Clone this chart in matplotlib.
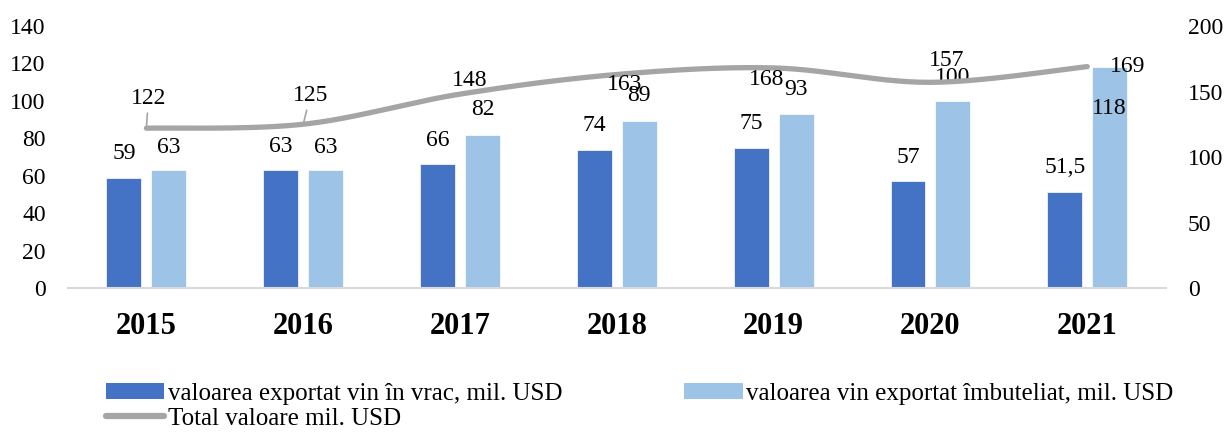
import matplotlib
matplotlib.use("Agg")
import matplotlib.pyplot as plt
import numpy as np
from matplotlib.lines import Line2D
from matplotlib.patches import Patch

years = ["2015", "2016", "2017", "2018", "2019", "2020", "2021"]
vrac = [59, 63, 66, 74, 75, 57, 51.5]
imbuteliat = [63, 63, 82, 89, 93, 100, 118]
total = [122, 125, 148, 163, 168, 157, 169]

vrac_labels = ["59", "63", "66", "74", "75", "57", "51,5"]
imb_labels = ["63", "63", "82", "89", "93", "100", "118"]
total_labels = ["122", "125", "148", "163", "168", "157", "169"]

C_DARK = "#4472C4"
C_LIGHT = "#9DC3E6"
C_GRAY = "#A5A5A5"

plt.rcParams['font.family'] = ['Liberation Serif', 'DejaVu Serif']

fig = plt.figure(figsize=(12.27, 4.32), dpi=100)
ax = fig.add_axes([0.0554, 0.3333, 0.8946, 0.6065])
ax2 = ax.twinx()

x = np.arange(len(years))
w = 0.223
off = 0.143
ax.bar(x - off, vrac, w, color=C_DARK, edgecolor="white", linewidth=0.5, zorder=2)
ax.bar(x + off, imbuteliat, w, color=C_LIGHT, edgecolor="white", linewidth=0.5, zorder=2)

ax.set_xlim(-0.5, len(years) - 0.5)
ax.set_ylim(0, 140)
ax.set_yticks(np.arange(0, 141, 20))
ax2.set_ylim(0, 200)
ax2.set_yticks(np.arange(0, 201, 50))

for a in (ax, ax2):
    for s in ("top", "left", "right"):
        a.spines[s].set_visible(False)
    a.tick_params(length=0, labelsize=17)
ax.spines["bottom"].set_color("#D9D9D9")
ax.spines["bottom"].set_linewidth(1.5)
ax2.spines["bottom"].set_visible(False)
ax.tick_params(axis="y", pad=16)
ax2.tick_params(axis="y", pad=16)
ax.set_xticks(x)
ax.set_xticklabels(years, fontsize=22, fontweight="bold")
ax.tick_params(axis="x", pad=17)

# smoothed line (Excel-like smoothing)
xs, ys = [], []
P = np.column_stack([x.astype(float), np.array(total, dtype=float)])
n = len(P)
for i in range(n - 1):
    p0 = P[max(i - 1, 0)]
    p1 = P[i]
    p2 = P[i + 1]
    p3 = P[min(i + 2, n - 1)]
    c1 = p1 + (p2 - p0) / 6.0
    c2 = p2 - (p3 - p1) / 6.0
    t = np.linspace(0, 1, 30)[:, None]
    seg = (1 - t) ** 3 * p1 + 3 * (1 - t) ** 2 * t * c1 + 3 * (1 - t) * t ** 2 * c2 + t ** 3 * p2
    xs.extend(seg[:, 0]); ys.extend(seg[:, 1])
ax2.plot(xs, ys, color=C_GRAY, linewidth=3.8, solid_capstyle="round", zorder=3)

# bar labels (pixel offsets)
vrac_off = [(0, 24)] * 7
imb_off = [(0, 23), (0, 23), (0, 25), (0, 26), (0, 24), (0, 23), (0, -41)]
for i in range(len(years)):
    ax.annotate(vrac_labels[i], (x[i] - off, vrac[i]), xytext=vrac_off[i],
                textcoords="offset pixels", ha="center", va="center", fontsize=17, zorder=5)
    ax.annotate(imb_labels[i], (x[i] + off, imbuteliat[i]), xytext=imb_off[i],
                textcoords="offset pixels", ha="center", va="center", fontsize=17, zorder=5)

tot_off = [(2, 30), (7, 29), (10, 14), (8, -10), (-7, -12), (16, 22), (40, 0)]
for i in range(len(years)):
    ax2.annotate(total_labels[i], (x[i], total[i]), xytext=tot_off[i],
                 textcoords="offset pixels", ha="center", va="center", fontsize=17, zorder=5)
# leader lines
for i in (0, 1):
    dx, dy = tot_off[i]
    ax2.annotate("", (x[i], total[i]), xytext=(dx * 0.5, dy - 15),
                 textcoords="offset pixels",
                 arrowprops=dict(arrowstyle="-", color=C_GRAY, lw=1.2, shrinkA=0, shrinkB=2))

handles = [Patch(facecolor=C_DARK),
           Line2D([0], [0], color=C_GRAY, lw=4.5, solid_capstyle="round"),
           Patch(facecolor=C_LIGHT)]
labels = ["valoarea exportat vin în vrac, mil. USD",
          "Total valoare mil. USD",
          "valoarea vin exportat îmbuteliat, mil. USD"]
fig.legend(handles, labels, ncol=2, loc="upper left", bbox_to_anchor=(0.086, 0.114),
           frameon=False, fontsize=18, handlelength=2.35, handleheight=0.6,
           handletextpad=0.15, columnspacing=4.85, labelspacing=0.12,
           borderaxespad=0, borderpad=0)

fig.savefig("out.png", dpi=100)
